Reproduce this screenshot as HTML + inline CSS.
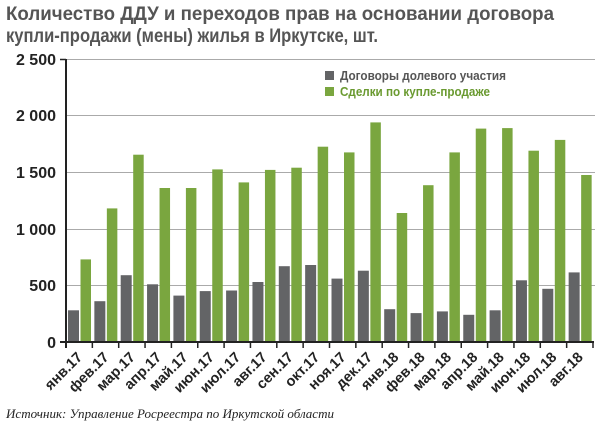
<!DOCTYPE html>
<html><head><meta charset="utf-8"><style>body{margin:0;background:#fff}svg{display:block}</style></head><body>
<svg width="600" height="427" xmlns="http://www.w3.org/2000/svg" font-family="Liberation Sans, sans-serif">
<text x="6" y="20" font-size="19" font-weight="bold" fill="#555" textLength="548" lengthAdjust="spacingAndGlyphs">Количество ДДУ и переходов прав на основании договора</text>
<text x="6" y="42" font-size="19" font-weight="bold" fill="#555" textLength="372" lengthAdjust="spacingAndGlyphs">купли-продажи (мены) жилья в Иркутске, шт.</text>
<g stroke="#aaa" stroke-width="1">
<line x1="66" x2="595" y1="59.5" y2="59.5"/><line x1="66" x2="595" y1="115.5" y2="115.5"/><line x1="66" x2="595" y1="172.5" y2="172.5"/><line x1="66" x2="595" y1="229.5" y2="229.5"/><line x1="66" x2="595" y1="285.5" y2="285.5"/>
</g>
<g font-size="16" font-weight="bold" fill="#222" text-anchor="end">
<text x="56" y="65">2 500</text><text x="56" y="121">2 000</text><text x="56" y="178">1 500</text><text x="56" y="235">1 000</text><text x="56" y="291">500</text><text x="56" y="348">0</text>
</g>
<g transform="translate(0,342) scale(1,-1)" fill="#636466">
<rect x="68" y="0" width="11" height="31.7"/>
<rect x="94.35" y="0" width="11" height="40.8"/>
<rect x="120.7" y="0" width="11" height="66.8"/>
<rect x="147.05" y="0" width="11" height="57.7"/>
<rect x="173.4" y="0" width="11" height="46.4"/>
<rect x="199.75" y="0" width="11" height="50.9"/>
<rect x="226.1" y="0" width="11" height="51.5"/>
<rect x="252.45" y="0" width="11" height="60"/>
<rect x="278.8" y="0" width="11" height="75.8"/>
<rect x="305.15" y="0" width="11" height="77"/>
<rect x="331.5" y="0" width="11" height="63.4"/>
<rect x="357.85" y="0" width="11" height="71.3"/>
<rect x="384.2" y="0" width="11" height="32.8"/>
<rect x="410.55" y="0" width="11" height="28.9"/>
<rect x="436.9" y="0" width="11" height="30.6"/>
<rect x="463.25" y="0" width="11" height="27.2"/>
<rect x="489.6" y="0" width="11" height="31.7"/>
<rect x="515.95" y="0" width="11" height="61.7"/>
<rect x="542.3" y="0" width="11" height="53.2"/>
<rect x="568.65" y="0" width="11" height="69.6"/>
</g>
<g transform="translate(0,342) scale(1,-1)" fill="#7aa63f">
<rect x="80.5" y="0" width="10.5" height="82.6"/>
<rect x="106.85" y="0" width="10.5" height="133.6"/>
<rect x="133.2" y="0" width="10.5" height="187.3"/>
<rect x="159.55" y="0" width="10.5" height="154"/>
<rect x="185.9" y="0" width="10.5" height="154"/>
<rect x="212.25" y="0" width="10.5" height="172.6"/>
<rect x="238.6" y="0" width="10.5" height="159.6"/>
<rect x="264.95" y="0" width="10.5" height="172.1"/>
<rect x="291.3" y="0" width="10.5" height="174.3"/>
<rect x="317.65" y="0" width="10.5" height="195.3"/>
<rect x="344" y="0" width="10.5" height="189.6"/>
<rect x="370.35" y="0" width="10.5" height="219.6"/>
<rect x="396.7" y="0" width="10.5" height="129"/>
<rect x="423.05" y="0" width="10.5" height="156.8"/>
<rect x="449.4" y="0" width="10.5" height="189.6"/>
<rect x="475.75" y="0" width="10.5" height="213.4"/>
<rect x="502.1" y="0" width="10.5" height="213.9"/>
<rect x="528.45" y="0" width="10.5" height="191.3"/>
<rect x="554.8" y="0" width="10.5" height="202.1"/>
<rect x="581.15" y="0" width="10.5" height="167"/>
</g>
<g stroke="#222" stroke-width="1.5">
<line x1="66" x2="66" y1="59" y2="348" stroke-width="2"/>
<line x1="60" x2="66" y1="59.5" y2="59.5"/>
<line x1="60" x2="594" y1="342" y2="342" stroke-width="2"/>
<line x1="92.35" x2="92.35" y1="342" y2="348"/><line x1="118.7" x2="118.7" y1="342" y2="348"/><line x1="145.05" x2="145.05" y1="342" y2="348"/><line x1="171.4" x2="171.4" y1="342" y2="348"/><line x1="197.75" x2="197.75" y1="342" y2="348"/><line x1="224.1" x2="224.1" y1="342" y2="348"/><line x1="250.45" x2="250.45" y1="342" y2="348"/><line x1="276.8" x2="276.8" y1="342" y2="348"/><line x1="303.15" x2="303.15" y1="342" y2="348"/><line x1="329.5" x2="329.5" y1="342" y2="348"/><line x1="355.85" x2="355.85" y1="342" y2="348"/><line x1="382.2" x2="382.2" y1="342" y2="348"/><line x1="408.55" x2="408.55" y1="342" y2="348"/><line x1="434.9" x2="434.9" y1="342" y2="348"/><line x1="461.25" x2="461.25" y1="342" y2="348"/><line x1="487.6" x2="487.6" y1="342" y2="348"/><line x1="513.95" x2="513.95" y1="342" y2="348"/><line x1="540.3" x2="540.3" y1="342" y2="348"/><line x1="566.65" x2="566.65" y1="342" y2="348"/><line x1="593" x2="593" y1="342" y2="348"/>
</g>
<g font-size="14.5" font-weight="bold" fill="#222" text-anchor="end">
<text transform="translate(83.2,358) rotate(-45)">янв.17</text>
<text transform="translate(109.55,358) rotate(-45)">фев.17</text>
<text transform="translate(135.9,358) rotate(-45)">мар.17</text>
<text transform="translate(162.25,358) rotate(-45)">апр.17</text>
<text transform="translate(188.6,358) rotate(-45)">май.17</text>
<text transform="translate(214.95,358) rotate(-45)">июн.17</text>
<text transform="translate(241.3,358) rotate(-45)">июл.17</text>
<text transform="translate(267.65,358) rotate(-45)">авг.17</text>
<text transform="translate(294,358) rotate(-45)">сен.17</text>
<text transform="translate(320.35,358) rotate(-45)">окт.17</text>
<text transform="translate(346.7,358) rotate(-45)">ноя.17</text>
<text transform="translate(373.05,358) rotate(-45)">дек.17</text>
<text transform="translate(399.4,358) rotate(-45)">янв.18</text>
<text transform="translate(425.75,358) rotate(-45)">фев.18</text>
<text transform="translate(452.1,358) rotate(-45)">мар.18</text>
<text transform="translate(478.45,358) rotate(-45)">апр.18</text>
<text transform="translate(504.8,358) rotate(-45)">май.18</text>
<text transform="translate(531.15,358) rotate(-45)">июн.18</text>
<text transform="translate(557.5,358) rotate(-45)">июл.18</text>
<text transform="translate(583.85,358) rotate(-45)">авг.18</text>
</g>
<rect x="325" y="71" width="9" height="9" fill="#636466"/>
<text x="340" y="80" font-size="13" font-weight="bold" fill="#555" textLength="166" lengthAdjust="spacingAndGlyphs">Договоры долевого участия</text>
<rect x="325" y="87" width="9" height="9" fill="#7aa63f"/>
<text x="340" y="96" font-size="13" font-weight="bold" fill="#6a9a30" textLength="150" lengthAdjust="spacingAndGlyphs">Сделки по купле-продаже</text>
<text x="6" y="418" font-size="13" font-style="italic" fill="#222" font-family="Liberation Serif, serif" textLength="328" lengthAdjust="spacingAndGlyphs">Источник: Управление Росреестра по Иркутской области</text>
</svg>
</body></html>
